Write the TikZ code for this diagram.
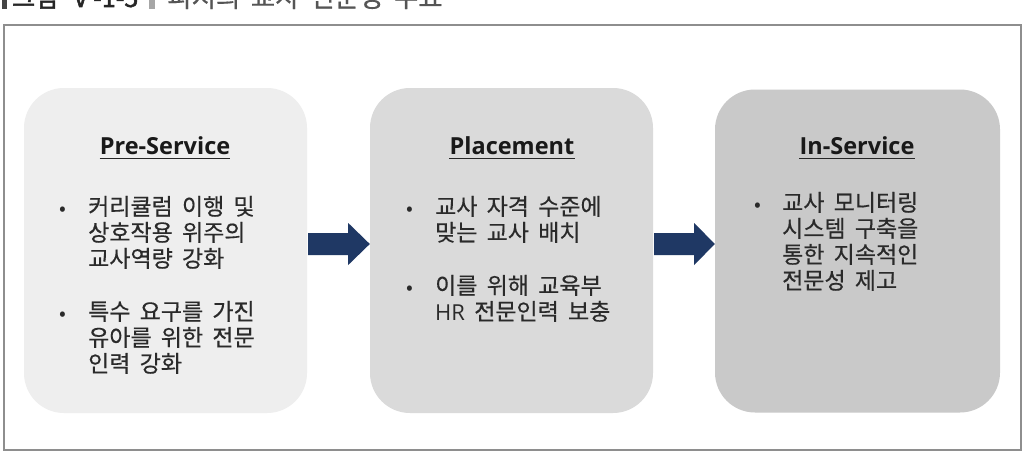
\documentclass[tikz,border=0pt]{standalone}
\usepackage{fontspec}
\setmainfont{Noto Sans CJK KR}
\newfontfamily\krtext{Noto Sans CJK KR}[WordSpace=0.4, FakeBold=0.4, RawFeature=+fwid]
\newfontfamily\krbold{Noto Sans CJK KR}[WordSpace=0.4, FakeBold=2, RawFeature=+fwid]
\newfontfamily\krboldp{Noto Sans CJK KR}[FakeBold=2]
\newfontfamily\ttlfont{Open Sans}
\usetikzlibrary{calc}
\definecolor{frameg}{HTML}{8E8E8E}
\definecolor{boxa}{HTML}{EEEEEE}
\definecolor{boxb}{HTML}{DADADA}
\definecolor{boxc}{HTML}{C9C9C9}
\definecolor{navy}{HTML}{1F3864}
\definecolor{txt}{HTML}{2A2A2A}
\definecolor{capg}{HTML}{555555}
\tikzset{
  x=1pt, y=-1pt,
  stagebox/.style={rounded corners=40pt, minimum width=283pt, minimum height=325pt, inner sep=0pt, draw=none},
  ttl/.style={font=\ttlfont\bfseries\fontsize{23.5}{26}\selectfont, text=black!90, inner sep=0pt, anchor=base},
  ln/.style={font=\krtext\fontsize{23}{26}\selectfont, text=txt, inner sep=0pt, anchor=base west},
  bul/.style={font=\fontsize{20}{26}\selectfont, text=txt, inner sep=0pt, anchor=base},
  blockarrow/.style={fill=navy, draw=none},
  uline/.style={line width=1.4pt, draw=black!85}
}
\begin{document}
\begin{tikzpicture}
\useasboundingbox (0,0) rectangle (1025,452);
\fill[white] (0,0) rectangle (1025,452);
% clipped caption
\begin{scope}
\clip (0,0) rectangle (1025,22);
\fill[capg!80!black] (2,-12) rectangle (7,9);
\node[font=\krbold\fontsize{25}{26}\selectfont, text=black!85, inner sep=0pt, anchor=base west] (capa) at (12,7) {그림 {\krboldp Ⅴ-1-5}};
\fill[gray!70] (149,-12) rectangle (155,9);
\node[font=\krtext\fontsize{26.5}{28}\selectfont, text=capg, inner sep=0pt, anchor=base west] (capb) at (167,7) {피지의 교사 전문성 주요};
\end{scope}
% frame
\draw[frameg, line width=2pt] (4,25) rectangle (1021,450);
% boxes
\node[stagebox, fill=boxa] (b1) at (165.5,250.5) {};
\node[stagebox, fill=boxb] (b2) at (511.5,250.5) {};
\node[stagebox, fill=boxc, minimum width=285pt, minimum height=323pt] (b3) at (857.5,251) {};
% titles
\node[ttl] (t1) at (165,154) {Pre-Service};
\node[ttl] (t2) at (512,154) {Placement};
\node[ttl] (t3) at (857,154) {In-Service};
\draw[uline] ($(t1.base west)+(0,4.5)$) -- ($(t1.base east)+(0,4.5)$);
\draw[uline] ($(t2.base west)+(0,4.5)$) -- ($(t2.base east)+(0,4.5)$);
\draw[uline] ($(t3.base west)+(0,4.5)$) -- ($(t3.base east)+(0,4.5)$);
% box 1 text
\node[bul] (p1) at (63,215) {•};
\node[ln] (a1) at (88,215) {커리큘럼 이행 및};
\node[ln] (a2) at (88,241) {상호작용 위주의};
\node[ln] (a3) at (88,267) {교사역량 강화};
\node[bul] (p2) at (63,320) {•};
\node[ln] (a4) at (88,320) {특수 요구를 가진};
\node[ln] (a5) at (88,346) {유아를 위한 전문};
\node[ln] (a6) at (88,372) {인력 강화};
% box 2 text
\node[bul] (p3) at (410,215) {•};
\node[ln] (c1) at (435,215) {교사 자격 수준에};
\node[ln] (c2) at (435,241) {맞는 교사 배치};
\node[bul] (p4) at (410,294) {•};
\node[ln] (c3) at (435,294) {이를 위해 교육부};
\node[ln] (c4) at (435,320) {{\ttlfont\fontsize{22}{26}\selectfont HR} 전문인력 보충};
% box 3 text
\node[bul] (p5) at (758,211) {•};
\node[ln] (d1) at (782,211) {교사 모니터링};
\node[ln] (d2) at (782,237) {시스템 구축을};
\node[ln] (d3) at (782,263) {통한 지속적인};
\node[ln] (d4) at (782,289) {전문성 제고};
% block arrows
\fill[blockarrow] ($(b1.east)+(1,-17.5)$) -- ($(b1.east)+(41,-17.5)$) -- ($(b1.east)+(41,-27.5)$)
  -- ($(b2.west)+(0,-6.5)$) -- ($(b1.east)+(41,14.5)$) -- ($(b1.east)+(41,4.5)$) -- ($(b1.east)+(1,4.5)$) -- cycle;
\fill[blockarrow] ($(b2.east)+(1,-17.5)$) -- ($(b2.east)+(41,-17.5)$) -- ($(b2.east)+(41,-27.5)$)
  -- ($(b3.west)+(0,-7)$) -- ($(b2.east)+(41,14.5)$) -- ($(b2.east)+(41,4.5)$) -- ($(b2.east)+(1,4.5)$) -- cycle;
\end{tikzpicture}
\end{document}
